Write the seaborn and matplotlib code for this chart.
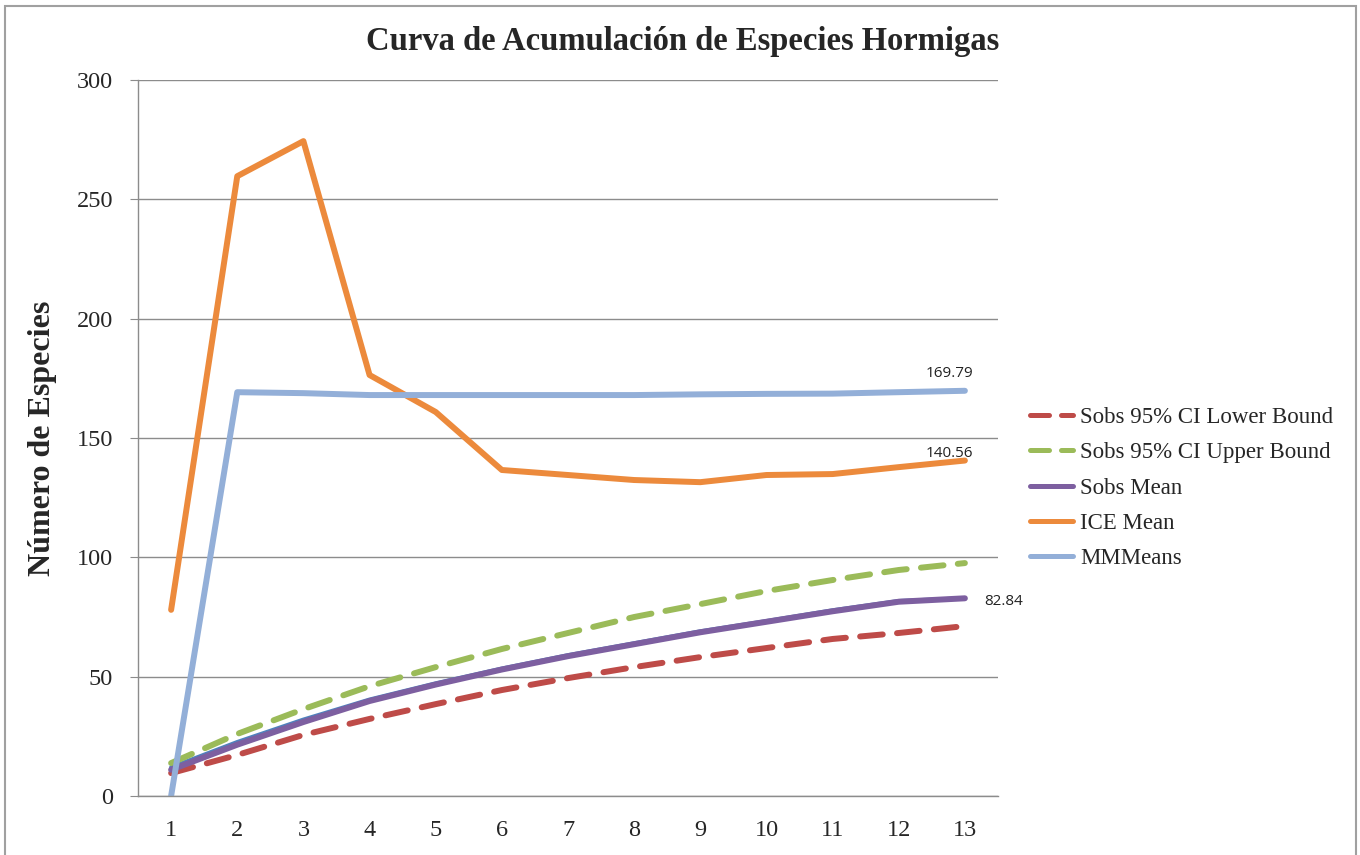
import pandas as pd
import matplotlib.pyplot as plt
import seaborn as sns
from matplotlib.patches import Rectangle

# Data
muestras = list(range(1, 14))
sobs_lower = [9.6, 17.2, 25.6, 32.3, 38.5, 44.4, 49.4, 54.0, 58.2, 62.0, 65.8, 68.3, 71.2]
sobs_upper = [13.8, 26.0, 36.4, 46.0, 54.0, 61.6, 68.3, 75.0, 80.4, 85.9, 90.5, 94.7, 97.6]
sobs_mean = [11.0, 21.5, 31.0, 39.8, 46.7, 53.0, 58.6, 63.6, 68.6, 73.0, 77.4, 81.4, 82.84]
sobs_mao = [12.0, 22.6, 32.0, 40.4, 47.2, 53.4, 59.0, 64.0, 69.0, 73.3, 77.8, 81.7, 82.84]
ice_mean = [78.0, 259.7, 274.4, 176.4, 160.9, 136.6, 134.5, 132.4, 131.5, 134.5, 134.9, 137.8, 140.56]
mm_means = [0.0, 169.2, 168.8, 168.0, 168.0, 168.0, 168.0, 168.0, 168.3, 168.5, 168.6, 169.2, 169.79]

df = pd.DataFrame({
    'muestra': muestras,
    'Sobs 95% CI Lower Bound': sobs_lower,
    'Sobs 95% CI Upper Bound': sobs_upper,
    'Sobs Mean': sobs_mean,
    'ICE Mean': ice_mean,
    'MMMeans': mm_means,
})

sns.set_style('white')
plt.rcParams['font.family'] = ['Liberation Serif', 'DejaVu Serif']

fig = plt.figure(figsize=(13.6, 8.55), dpi=100)
ax = fig.add_axes([0.1015, 0.069, 0.6323, 0.8374])

lw = 4.3
dash = (3.8, 2.4)

# unlabeled blue series lying just under the Sobs Mean line
sns.lineplot(x=muestras, y=sobs_mao, ax=ax, color='#4F81BD', linewidth=3.0,
             legend=False, solid_capstyle='round')

series = [
    ('Sobs 95% CI Lower Bound', '#BE4B48', dash),
    ('Sobs 95% CI Upper Bound', '#9BBB59', dash),
    ('Sobs Mean', '#7D5FA0', None),
    ('ICE Mean', '#EC8A3C', None),
    ('MMMeans', '#93AFD8', None),
]
for name, color, ds in series:
    sns.lineplot(data=df, x='muestra', y=name, ax=ax, color=color,
                 linewidth=lw, label=name)
    l = ax.lines[-1]
    l.set_solid_capstyle('round')
    l.set_dash_capstyle('round')
    if ds is not None:
        l.set_dashes(ds)

ax.set_xlim(0.5, 13.5)
ax.set_ylim(0, 300)
ax.set_yticks(range(0, 301, 50))
ax.set_xticks(muestras)
ax.yaxis.grid(True, color='#8c8c8c', linewidth=1)
ax.xaxis.grid(False)
for side in ['top', 'right']:
    ax.spines[side].set_visible(False)
for side in ['left', 'bottom']:
    ax.spines[side].set_color('#8c8c8c')
    ax.spines[side].set_linewidth(1)
ax.tick_params(axis='y', left=True, length=6, color='#8c8c8c', labelsize=17.5, pad=12)
ax.tick_params(axis='x', bottom=False, labelsize=17.5, pad=14)

ax.set_xlabel('')
ax.set_ylabel('Número de Especies', fontsize=23, fontweight='bold', labelpad=14)

# value labels at the last point
ann = dict(family=['Open Sans', 'DejaVu Sans'], fontsize=11, color='#222222')
ax.annotate(f'{mm_means[-1]:.2f}', (muestras[-1], mm_means[-1]), xytext=(6, 7),
            textcoords='offset points', ha='right', va='bottom', **ann)
ax.annotate(f'{ice_mean[-1]:.2f}', (muestras[-1], ice_mean[-1]), xytext=(6, 0),
            textcoords='offset points', ha='right', va='bottom', **ann)
ax.annotate(f'{sobs_mean[-1]:.2f}', (muestras[-1], sobs_mean[-1]), xytext=(14, -2),
            textcoords='offset points', ha='left', va='center', **ann)

fig.suptitle('Curva de Acumulación de Especies Hormigas', x=0.502, y=0.97,
             fontsize=23.5, fontweight='bold')

leg = ax.legend(loc='center left', bbox_to_anchor=(1.013, 0.43), frameon=False,
                fontsize=16.5, handlelength=1.9, handletextpad=0.3, labelspacing=0.62)
for h in leg.get_lines():
    h.set_linewidth(3.6)

fig.patches.append(Rectangle((0.004, -0.01), 0.993, 1.003, transform=fig.transFigure,
                             fill=False, edgecolor='#a0a0a0', linewidth=1.5))

fig.savefig('out.png', dpi=100)
